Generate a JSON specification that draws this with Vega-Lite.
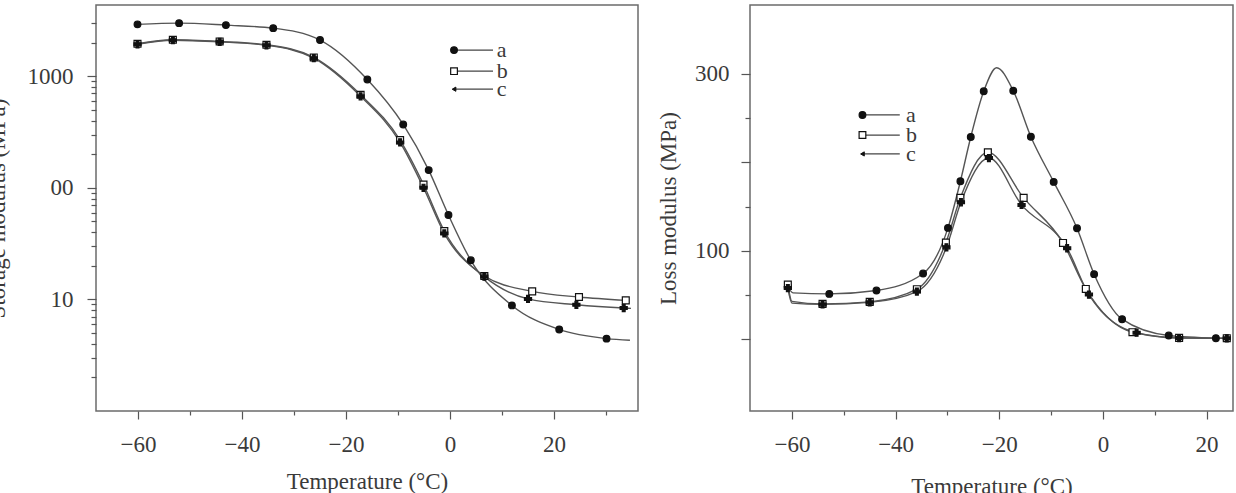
{
  "$schema": "https://vega.github.io/schema/vega-lite/v6.json",
  "autosize": {"type": "none"},
  "padding": {"left": 96, "top": 5, "right": 1140, "bottom": 488},
  "background": "white",
  "datasets": {
    "storage": [
      {"s": "a", "T": -60.1, "v": 2912, "mk": 1},
      {"s": "a", "T": -52.1, "v": 2985, "mk": 1},
      {"s": "a", "T": -43.1, "v": 2866, "mk": 1},
      {"s": "a", "T": -34.0, "v": 2692, "mk": 1},
      {"s": "a", "T": -25.0, "v": 2105, "mk": 1},
      {"s": "a", "T": -15.9, "v": 933, "mk": 1},
      {"s": "a", "T": -9.0, "v": 369, "mk": 1},
      {"s": "a", "T": -4.1, "v": 144, "mk": 1},
      {"s": "a", "T": -0.3, "v": 57, "mk": 1},
      {"s": "a", "T": 4.0, "v": 22.4, "mk": 1},
      {"s": "a", "T": 11.9, "v": 8.83, "mk": 1},
      {"s": "a", "T": 21.0, "v": 5.38, "mk": 1},
      {"s": "a", "T": 30.1, "v": 4.45, "mk": 1},
      {"s": "a", "T": 34.6, "v": 4.3, "mk": 0},
      {"s": "b", "T": -60.1, "v": 1950, "mk": 1},
      {"s": "b", "T": -53.3, "v": 2117, "mk": 1},
      {"s": "b", "T": -44.3, "v": 2046, "mk": 1},
      {"s": "b", "T": -35.3, "v": 1910, "mk": 1},
      {"s": "b", "T": -26.2, "v": 1471, "mk": 1},
      {"s": "b", "T": -17.2, "v": 681, "mk": 1},
      {"s": "b", "T": -9.6, "v": 267, "mk": 1},
      {"s": "b", "T": -5.1, "v": 107, "mk": 1},
      {"s": "b", "T": -1.1, "v": 41, "mk": 1},
      {"s": "b", "T": 6.6, "v": 16.2, "mk": 1},
      {"s": "b", "T": 15.8, "v": 11.8, "mk": 1},
      {"s": "b", "T": 24.8, "v": 10.5, "mk": 1},
      {"s": "b", "T": 33.8, "v": 9.8, "mk": 1},
      {"s": "c", "T": -60.1, "v": 1930, "mk": 1},
      {"s": "c", "T": -53.3, "v": 2100, "mk": 1},
      {"s": "c", "T": -44.3, "v": 2030, "mk": 1},
      {"s": "c", "T": -35.3, "v": 1890, "mk": 1},
      {"s": "c", "T": -26.2, "v": 1450, "mk": 1},
      {"s": "c", "T": -17.2, "v": 660, "mk": 1},
      {"s": "c", "T": -9.6, "v": 255, "mk": 1},
      {"s": "c", "T": -5.1, "v": 100, "mk": 1},
      {"s": "c", "T": -1.1, "v": 39, "mk": 1},
      {"s": "c", "T": 6.6, "v": 16.0, "mk": 1},
      {"s": "c", "T": 15.0, "v": 10.1, "mk": 1},
      {"s": "c", "T": 24.3, "v": 8.95, "mk": 1},
      {"s": "c", "T": 33.4, "v": 8.36, "mk": 1},
      {"s": "c", "T": 34.8, "v": 8.3, "mk": 0}
    ],
    "loss": [
      {"s": "a", "T": -60.8, "v": 60, "mk": 1},
      {"s": "a", "T": -59.8, "v": 52.5, "mk": 0},
      {"s": "a", "T": -52.8, "v": 51.4, "mk": 1},
      {"s": "a", "T": -43.7, "v": 55.2, "mk": 1},
      {"s": "a", "T": -34.7, "v": 74.4, "mk": 1},
      {"s": "a", "T": -29.9, "v": 126, "mk": 1},
      {"s": "a", "T": -27.5, "v": 178.8, "mk": 1},
      {"s": "a", "T": -25.5, "v": 228.8, "mk": 1},
      {"s": "a", "T": -23.0, "v": 280.5, "mk": 1},
      {"s": "a", "T": -20.5, "v": 307, "mk": 0},
      {"s": "a", "T": -17.3, "v": 281, "mk": 1},
      {"s": "a", "T": -13.9, "v": 229, "mk": 1},
      {"s": "a", "T": -9.5, "v": 178, "mk": 1},
      {"s": "a", "T": -5.0, "v": 125.6, "mk": 1},
      {"s": "a", "T": -1.7, "v": 73.7, "mk": 1},
      {"s": "a", "T": 3.7, "v": 22.8, "mk": 1},
      {"s": "a", "T": 12.7, "v": 4.3, "mk": 1},
      {"s": "a", "T": 21.8, "v": 1.3, "mk": 1},
      {"s": "b", "T": -60.8, "v": 62, "mk": 1},
      {"s": "b", "T": -60.0, "v": 43, "mk": 0},
      {"s": "b", "T": -54.1, "v": 40.1, "mk": 1},
      {"s": "b", "T": -45.0, "v": 42.4, "mk": 1},
      {"s": "b", "T": -35.9, "v": 56.7, "mk": 1},
      {"s": "b", "T": -30.3, "v": 109.4, "mk": 1},
      {"s": "b", "T": -27.5, "v": 160, "mk": 1},
      {"s": "b", "T": -22.2, "v": 211.5, "mk": 1},
      {"s": "b", "T": -15.3, "v": 159.9, "mk": 1},
      {"s": "b", "T": -7.7, "v": 109, "mk": 1},
      {"s": "b", "T": -3.3, "v": 57, "mk": 1},
      {"s": "b", "T": 5.7, "v": 8.1, "mk": 1},
      {"s": "b", "T": 14.7, "v": 1.7, "mk": 1},
      {"s": "b", "T": 23.9, "v": 1.3, "mk": 1},
      {"s": "c", "T": -60.8, "v": 58, "mk": 1},
      {"s": "c", "T": -60.0, "v": 41, "mk": 0},
      {"s": "c", "T": -54.1, "v": 39.5, "mk": 1},
      {"s": "c", "T": -45.0, "v": 41.8, "mk": 1},
      {"s": "c", "T": -35.9, "v": 54, "mk": 1},
      {"s": "c", "T": -30.2, "v": 104, "mk": 1},
      {"s": "c", "T": -27.4, "v": 155, "mk": 1},
      {"s": "c", "T": -22.0, "v": 205, "mk": 1},
      {"s": "c", "T": -15.7, "v": 152, "mk": 1},
      {"s": "c", "T": -6.9, "v": 103, "mk": 1},
      {"s": "c", "T": -2.7, "v": 50.6, "mk": 1},
      {"s": "c", "T": 6.5, "v": 7.5, "mk": 1},
      {"s": "c", "T": 14.7, "v": 1.5, "mk": 1},
      {"s": "c", "T": 23.9, "v": 1.2, "mk": 1}
    ]
  },
  "hconcat": [
    {
      "width": 542,
      "height": 406,
      "data": {"name": "storage"},
      "layer": [
        {
          "mark": {"type": "line", "interpolate": "monotone", "color": "#555", "strokeWidth": 1.4},
          "encoding": {
            "x": {
              "field": "T", "type": "quantitative",
              "scale": {"domain": [-68.08, 36.15], "nice": false, "zero": false},
              "axis": {
                "orient": "bottom",
                "values": [-60, -55, -50, -45, -40, -35, -30, -25, -20, -15, -10, -5, 0, 5, 10, 15, 20, 25, 30],
                "format": "d",
                "labelExpr": "datum.value % 20 === 0 ? datum.label : ''",
                "tickSize": {"condition": {"test": "datum.value % 20 === 0", "value": 8}, "value": 4},
                "labelPadding": 14,
                "labelOverlap": false,
                "labelFlush": false,
                "title": "Temperature (°C)",
                "titlePadding": 14
              }
            },
            "y": {
              "field": "v", "type": "quantitative",
              "scale": {"type": "log", "domain": [1, 4340], "nice": false},
              "axis": {
                "orient": "left",
                "values": [2, 3, 4, 5, 6, 7, 8, 9, 10, 20, 30, 40, 50, 60, 70, 80, 90, 100, 200, 300, 400, 500, 600, 700, 800, 900, 1000, 2000, 3000],
                "format": "d",
                "labelExpr": "datum.value === 100 ? '00' : (datum.value === 10 || datum.value === 1000) ? datum.label : ''",
                "tickSize": {"condition": {"test": "datum.value === 10 || datum.value === 100 || datum.value === 1000", "value": 9}, "value": 5},
                "labelPadding": 14,
                "labelOverlap": false,
                "labelFlush": false,
                "title": "Storage modulus (MPa)",
                "titlePadding": 18
              }
            },
            "detail": {"field": "s"}
          }
        },
        {
          "transform": [{"filter": "datum.mk == 1"}],
          "mark": {"type": "point", "filled": true, "opacity": 1, "stroke": "#111", "strokeWidth": 1.2},
          "encoding": {
            "x": {"field": "T", "type": "quantitative"},
            "y": {"field": "v", "type": "quantitative"},
            "shape": {"field": "s", "type": "nominal", "scale": {"domain": ["a", "b", "c"], "range": ["circle", "square", "cross"]}, "legend": null},
            "fill": {"field": "s", "type": "nominal", "scale": {"domain": ["a", "b", "c"], "range": ["#111", "#ffffff", "#111"]}, "legend": null},
            "size": {"field": "s", "type": "nominal", "scale": {"domain": ["a", "b", "c"], "range": [45, 50, 20]}, "legend": null}
          }
        },
        {"data": {"values": [{}]}, "mark": {"type": "rule", "color": "#444", "strokeWidth": 1.3},
         "encoding": {"x": {"datum": 0.77, "type": "quantitative"}, "x2": {"datum": 8.27}, "y": {"datum": 1711, "type": "quantitative"}}},
        {"data": {"values": [{}]}, "mark": {"type": "rule", "color": "#444", "strokeWidth": 1.3},
         "encoding": {"x": {"datum": 0.77, "type": "quantitative"}, "x2": {"datum": 8.27}, "y": {"datum": 1109, "type": "quantitative"}}},
        {"data": {"values": [{}]}, "mark": {"type": "rule", "color": "#444", "strokeWidth": 1.3},
         "encoding": {"x": {"datum": 0.77, "type": "quantitative"}, "x2": {"datum": 8.27}, "y": {"datum": 764, "type": "quantitative"}}},
        {"data": {"values": [{}]}, "mark": {"type": "point", "shape": "circle", "filled": true, "fill": "#111", "stroke": "#111", "strokeWidth": 1.2, "size": 45, "opacity": 1},
         "encoding": {"x": {"datum": 0.77, "type": "quantitative"}, "y": {"datum": 1711, "type": "quantitative"}}},
        {"data": {"values": [{}]}, "mark": {"type": "point", "shape": "square", "filled": true, "fill": "#ffffff", "stroke": "#111", "strokeWidth": 1.2, "size": 45, "opacity": 1},
         "encoding": {"x": {"datum": 0.77, "type": "quantitative"}, "y": {"datum": 1109, "type": "quantitative"}}},
        {"data": {"values": [{}]}, "mark": {"type": "point", "shape": "triangle-left", "filled": true, "fill": "#111", "stroke": "#111", "strokeWidth": 1, "size": 18, "opacity": 1},
         "encoding": {"x": {"datum": 0.77, "type": "quantitative"}, "y": {"datum": 764, "type": "quantitative"}}},
        {"data": {"values": [{}]}, "mark": {"type": "text", "text": "a", "align": "left", "baseline": "alphabetic", "dy": 7, "font": "Liberation Serif", "fontSize": 22, "color": "#3a3a3a"},
         "encoding": {"x": {"datum": 9.0, "type": "quantitative"}, "y": {"datum": 1711, "type": "quantitative"}}},
        {"data": {"values": [{}]}, "mark": {"type": "text", "text": "b", "align": "left", "baseline": "alphabetic", "dy": 7, "font": "Liberation Serif", "fontSize": 22, "color": "#3a3a3a"},
         "encoding": {"x": {"datum": 9.0, "type": "quantitative"}, "y": {"datum": 1109, "type": "quantitative"}}},
        {"data": {"values": [{}]}, "mark": {"type": "text", "text": "c", "align": "left", "baseline": "alphabetic", "dy": 7, "font": "Liberation Serif", "fontSize": 22, "color": "#3a3a3a"},
         "encoding": {"x": {"datum": 9.0, "type": "quantitative"}, "y": {"datum": 764, "type": "quantitative"}}}
      ]
    },
    {
      "width": 483,
      "height": 406,
      "data": {"name": "loss"},
      "layer": [
        {
          "mark": {"type": "line", "interpolate": "monotone", "color": "#555", "strokeWidth": 1.4},
          "encoding": {
            "x": {
              "field": "T", "type": "quantitative",
              "scale": {"domain": [-68.1, 25.1], "nice": false, "zero": false},
              "axis": {
                "orient": "bottom",
                "values": [-60, -55, -50, -45, -40, -35, -30, -25, -20, -15, -10, -5, 0, 5, 10, 15, 20, 25],
                "format": "d",
                "labelExpr": "datum.value % 20 === 0 ? datum.label : ''",
                "tickSize": {"condition": {"test": "datum.value % 20 === 0", "value": 8}, "value": 4},
                "labelPadding": 14,
                "labelOverlap": false,
                "labelFlush": false,
                "title": "Temperature (°C)",
                "titlePadding": 19
              }
            },
            "y": {
              "field": "v", "type": "quantitative",
              "scale": {"domain": [-81, 378], "nice": false, "zero": false},
              "axis": {
                "orient": "left",
                "values": [0, 25, 50, 75, 100, 125, 150, 175, 200, 225, 250, 275, 300],
                "format": "d",
                "labelExpr": "(datum.value === 100 || datum.value === 300) ? datum.label : ''",
                "tickSize": {"condition": {"test": "datum.value % 100 === 0", "value": 9}, "value": 5},
                "labelPadding": 12,
                "labelOverlap": false,
                "labelFlush": false,
                "title": "Loss modulus (MPa)",
                "titlePadding": 14
              }
            },
            "detail": {"field": "s"}
          }
        },
        {
          "transform": [{"filter": "datum.mk == 1"}],
          "mark": {"type": "point", "filled": true, "opacity": 1, "stroke": "#111", "strokeWidth": 1.2},
          "encoding": {
            "x": {"field": "T", "type": "quantitative"},
            "y": {"field": "v", "type": "quantitative"},
            "shape": {"field": "s", "type": "nominal", "scale": {"domain": ["a", "b", "c"], "range": ["circle", "square", "cross"]}, "legend": null},
            "fill": {"field": "s", "type": "nominal", "scale": {"domain": ["a", "b", "c"], "range": ["#111", "#ffffff", "#111"]}, "legend": null},
            "size": {"field": "s", "type": "nominal", "scale": {"domain": ["a", "b", "c"], "range": [45, 50, 20]}, "legend": null}
          }
        },
        {"data": {"values": [{}]}, "mark": {"type": "rule", "color": "#444", "strokeWidth": 1.3},
         "encoding": {"x": {"datum": -46.4, "type": "quantitative"}, "x2": {"datum": -39.2}, "y": {"datum": 253.7, "type": "quantitative"}}},
        {"data": {"values": [{}]}, "mark": {"type": "rule", "color": "#444", "strokeWidth": 1.3},
         "encoding": {"x": {"datum": -46.4, "type": "quantitative"}, "x2": {"datum": -39.2}, "y": {"datum": 231, "type": "quantitative"}}},
        {"data": {"values": [{}]}, "mark": {"type": "rule", "color": "#444", "strokeWidth": 1.3},
         "encoding": {"x": {"datum": -46.4, "type": "quantitative"}, "x2": {"datum": -39.2}, "y": {"datum": 209.6, "type": "quantitative"}}},
        {"data": {"values": [{}]}, "mark": {"type": "point", "shape": "circle", "filled": true, "fill": "#111", "stroke": "#111", "strokeWidth": 1.2, "size": 45, "opacity": 1},
         "encoding": {"x": {"datum": -46.4, "type": "quantitative"}, "y": {"datum": 253.7, "type": "quantitative"}}},
        {"data": {"values": [{}]}, "mark": {"type": "point", "shape": "square", "filled": true, "fill": "#ffffff", "stroke": "#111", "strokeWidth": 1.2, "size": 45, "opacity": 1},
         "encoding": {"x": {"datum": -46.4, "type": "quantitative"}, "y": {"datum": 231, "type": "quantitative"}}},
        {"data": {"values": [{}]}, "mark": {"type": "point", "shape": "triangle-left", "filled": true, "fill": "#111", "stroke": "#111", "strokeWidth": 1, "size": 18, "opacity": 1},
         "encoding": {"x": {"datum": -46.4, "type": "quantitative"}, "y": {"datum": 209.6, "type": "quantitative"}}},
        {"data": {"values": [{}]}, "mark": {"type": "text", "text": "a", "align": "left", "baseline": "alphabetic", "dy": 7, "font": "Liberation Serif", "fontSize": 22, "color": "#3a3a3a"},
         "encoding": {"x": {"datum": -38.0, "type": "quantitative"}, "y": {"datum": 253.7, "type": "quantitative"}}},
        {"data": {"values": [{}]}, "mark": {"type": "text", "text": "b", "align": "left", "baseline": "alphabetic", "dy": 7, "font": "Liberation Serif", "fontSize": 22, "color": "#3a3a3a"},
         "encoding": {"x": {"datum": -38.0, "type": "quantitative"}, "y": {"datum": 231, "type": "quantitative"}}},
        {"data": {"values": [{}]}, "mark": {"type": "text", "text": "c", "align": "left", "baseline": "alphabetic", "dy": 7, "font": "Liberation Serif", "fontSize": 22, "color": "#3a3a3a"},
         "encoding": {"x": {"datum": -38.0, "type": "quantitative"}, "y": {"datum": 209.6, "type": "quantitative"}}}
      ]
    }
  ],
  "resolve": {
    "scale": {"shape": "independent", "fill": "independent", "size": "independent"}
  },
  "spacing": 112,
  "bounds": "flush",
  "config": {
    "font": "Liberation Serif",
    "view": {"stroke": "#6b6b6b", "strokeWidth": 1.5},
    "axis": {
      "labelFont": "Liberation Serif", "labelFontSize": 23, "labelColor": "#3a3a3a",
      "titleFont": "Liberation Serif", "titleFontSize": 23, "titleFontWeight": "normal", "titleColor": "#3a3a3a",
      "tickColor": "#555", "tickWidth": 1.2, "grid": false, "domain": false
    }
  }
}
